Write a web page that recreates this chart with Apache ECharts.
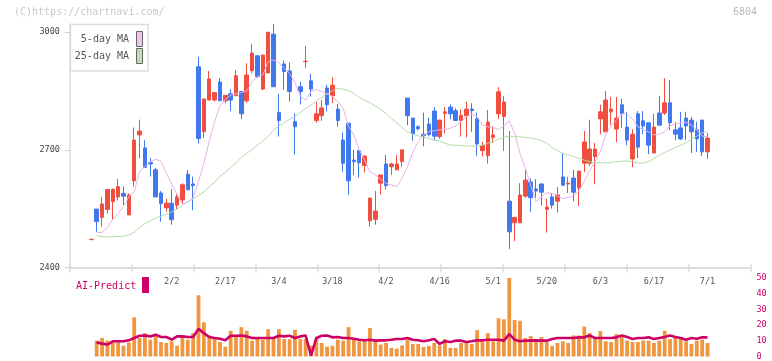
<!DOCTYPE html>
<html>
<head>
<meta charset="utf-8">
<script src="https://cdn.jsdelivr.net/npm/echarts@6/dist/echarts.min.js"></script>
<style>
  html, body { margin: 0; padding: 0; background: #fff; }
  #chart { width: 772px; height: 361px; }
</style>
</head>
<body>
<div id="chart"></div>
<script>
// daily candles, oldest first (index 0 is the stub before the window)
const open = [
  2471, 2549, 2528, 2548, 2568, 2580, 2589, 2534, 2621, 2738,
  2705, 2668, 2649, 2590, 2552, 2564, 2559, 2572, 2638, 2613,
  2912, 2746, 2827, 2827, 2873, 2825, 2843, 2838, 2849, 2825,
  2902, 2940, 2855, 2896, 2995, 2795, 2919, 2901, 2772, 2861,
  2925, 2876, 2775, 2787, 2858, 2838, 2804, 2725, 2768, 2674,
  2698, 2660, 2519, 2523, 2615, 2664, 2657, 2649, 2670, 2832,
  2781, 2759, 2740, 2766, 2799, 2734, 2793, 2809, 2800, 2775,
  2787, 2804, 2779, 2698, 2685, 2732, 2792, 2785, 2569, 2514,
  2514, 2582, 2618, 2600, 2613, 2548, 2580, 2569, 2631, 2613,
  2628, 2603, 2666, 2666, 2683, 2779, 2746, 2797, 2753, 2815,
  2758, 2677, 2792, 2774, 2769, 2692, 2794, 2794, 2820, 2751,
  2756, 2781, 2776, 2751, 2776, 2695
]
const close = [
  2472, 2517, 2562, 2599, 2599, 2606, 2582, 2585, 2725, 2748,
  2655, 2664, 2580, 2563, 2564, 2522, 2580, 2611, 2598, 2609,
  2729, 2830, 2881, 2846, 2825, 2839, 2827, 2889, 2792, 2891,
  2947, 2887, 2942, 3000, 2861, 2775, 2900, 2849, 2759, 2849,
  2926, 2855, 2792, 2807, 2815, 2865, 2775, 2666, 2621, 2670,
  2667, 2684, 2577, 2544, 2636, 2609, 2664, 2664, 2700, 2787,
  2741, 2754, 2736, 2739, 2735, 2776, 2797, 2792, 2775, 2788,
  2804, 2800, 2715, 2711, 2771, 2738, 2848, 2822, 2491, 2528,
  2585, 2623, 2578, 2595, 2592, 2554, 2559, 2585, 2610, 2615,
  2592, 2646, 2720, 2702, 2702, 2797, 2827, 2804, 2781, 2792,
  2725, 2740, 2707, 2761, 2712, 2758, 2763, 2820, 2769, 2740,
  2728, 2761, 2746, 2728, 2695, 2730
]
const low = [
  2471, 2491, 2504, 2538, 2523, 2571, 2559, 2534, 2606, 2678,
  2655, 2632, 2580, 2517, 2542, 2509, 2548, 2563, 2598, 2546,
  2716, 2730, 2827, 2823, 2825, 2819, 2799, 2838, 2779, 2820,
  2895, 2884, 2852, 2896, 2861, 2734, 2853, 2823, 2688, 2816,
  2908, 2836, 2769, 2774, 2798, 2819, 2759, 2644, 2585, 2636,
  2629, 2642, 2504, 2509, 2586, 2599, 2636, 2649, 2657, 2763,
  2723, 2750, 2709, 2734, 2723, 2728, 2742, 2778, 2775, 2734,
  2732, 2746, 2685, 2683, 2665, 2717, 2779, 2697, 2447, 2467,
  2514, 2578, 2542, 2578, 2558, 2489, 2550, 2540, 2608, 2590,
  2569, 2557, 2643, 2659, 2612, 2740, 2746, 2763, 2720, 2756,
  2712, 2656, 2679, 2740, 2689, 2692, 2763, 2789, 2751, 2725,
  2725, 2725, 2692, 2695, 2684, 2677
]
const high = [
  2472, 2549, 2579, 2599, 2602, 2626, 2607, 2589, 2757, 2777,
  2725, 2679, 2654, 2595, 2576, 2600, 2589, 2615, 2649, 2632,
  2937, 2830, 2901, 2846, 2883, 2839, 2855, 2904, 2849, 2921,
  2970, 2940, 2942, 3000, 3021, 2843, 2928, 2923, 2793, 2874,
  2965, 2894, 2823, 2827, 2866, 2885, 2817, 2744, 2768, 2700,
  2698, 2687, 2577, 2595, 2636, 2687, 2667, 2687, 2700, 2832,
  2781, 2763, 2795, 2782, 2809, 2776, 2809, 2816, 2806, 2803,
  2823, 2819, 2795, 2721, 2802, 2761, 2860, 2837, 2748, 2528,
  2615, 2649, 2627, 2625, 2615, 2575, 2590, 2605, 2692, 2631,
  2649, 2646, 2748, 2777, 2718, 2815, 2850, 2835, 2835, 2830,
  2797, 2753, 2799, 2799, 2769, 2792, 2837, 2883, 2878, 2771,
  2797, 2797, 2784, 2771, 2776, 2743
]
const ma5 = [
  '-', 2489, 2489, 2502, 2523, 2538, 2555, 2580, 2593, 2645,
  2657, 2670, 2676, 2671, 2640, 2613, 2586, 2561, 2567, 2578,
  2620, 2665, 2722, 2772, 2812, 2829, 2840, 2843, 2846, 2850,
  2874, 2887, 2891, 2925, 2929, 2923, 2908, 2895, 2872, 2837,
  2827, 2849, 2854, 2849, 2843, 2836, 2823, 2806, 2760, 2738,
  2700, 2674, 2644, 2636, 2625, 2615, 2610, 2606, 2627, 2657,
  2695, 2721, 2738, 2746, 2749, 2751, 2752, 2755, 2761, 2772,
  2785, 2791, 2785, 2763, 2759, 2757, 2752, 2761, 2774, 2742,
  2691, 2653, 2610, 2568, 2580, 2591, 2589, 2582, 2576, 2579,
  2582, 2596, 2619, 2647, 2670, 2695, 2738, 2761, 2776, 2792,
  2793, 2778, 2759, 2751, 2746, 2738, 2740, 2746, 2761, 2766,
  2768, 2771, 2763, 2751, 2735, 2734
]
const ma25 = [
  '-', 2481, 2479, 2478, 2478, 2479, 2480, 2483, 2490, 2502,
  2512, 2519, 2526, 2531, 2536, 2542, 2549, 2559, 2568, 2575,
  2583, 2593, 2606, 2617, 2632, 2643, 2655, 2667, 2681, 2691,
  2701, 2712, 2723, 2734, 2751, 2761, 2769, 2778, 2785, 2795,
  2806, 2814, 2825, 2834, 2843, 2851, 2857, 2855, 2851, 2844,
  2834, 2827, 2820, 2812, 2803, 2793, 2780, 2769, 2757, 2746,
  2740, 2736, 2732, 2729, 2725, 2723, 2717, 2712, 2712, 2711,
  2710, 2710, 2709, 2712, 2717, 2721, 2727, 2732, 2735, 2734,
  2733, 2732, 2730, 2728, 2723, 2717, 2706, 2698, 2691, 2687,
  2683, 2678, 2674, 2670, 2667, 2667, 2667, 2668, 2670, 2671,
  2672, 2670, 2667, 2666, 2670, 2678, 2687, 2693, 2700, 2706,
  2712, 2718, 2727, 2735, 2744, 2747
]
const volume = [
  '-', 10.1, 11.8, 10.1, 9.0, 9.0, 6.9, 9.0, 25.0, 11.8,
  14.9, 10.7, 13.4, 9.2, 8.6, 9.7, 6.9, 13.4, 10.7, 14.9,
  39.0, 21.8, 13.4, 12.4, 9.2, 6.3, 16.4, 12.4, 18.7, 16.4,
  10.1, 11.1, 10.7, 17.4, 11.1, 17.4, 11.1, 11.1, 17.0, 11.1,
  11.1, 6.9, 11.1, 8.6, 6.3, 6.9, 10.7, 10.1, 18.7, 11.1,
  9.7, 11.1, 18.1, 9.7, 7.6, 8.6, 5.5, 5.0, 7.1, 10.7,
  8.0, 8.0, 6.1, 6.7, 8.6, 7.1, 11.1, 5.5, 5.5, 8.6,
  9.7, 8.0, 16.8, 9.7, 14.9, 9.7, 24.4, 23.7, 50.2, 23.3,
  22.7, 11.8, 13.0, 10.1, 12.4, 9.7, 6.7, 8.6, 9.7, 8.6,
  13.4, 13.4, 19.1, 14.9, 12.4, 16.2, 9.7, 9.2, 14.3, 12.4,
  10.1, 9.2, 9.2, 10.1, 10.1, 8.6, 10.1, 16.4, 11.1, 13.0,
  12.4, 9.7, 8.0, 10.1, 10.7, 8.6
]
const aiPredict = [
  '-', 9.0, 8.2, 7.6, 9.7, 9.7, 9.7, 10.3, 11.8, 13.2,
  13.4, 12.8, 13.9, 12.4, 12.4, 10.7, 12.8, 12.8, 12.4, 12.4,
  17.6, 14.9, 12.4, 11.8, 11.3, 10.3, 13.2, 13.2, 13.4, 12.8,
  11.8, 11.8, 11.8, 11.8, 11.8, 13.2, 12.8, 13.2, 11.8, 12.8,
  13.4, 0.5, 11.8, 13.2, 13.4, 12.2, 12.4, 11.8, 11.8, 11.3,
  10.7, 10.3, 10.7, 10.1, 10.3, 10.3, 10.7, 11.1, 11.1, 11.8,
  10.7, 10.3, 9.7, 10.3, 11.1, 8.0, 9.7, 9.2, 10.1, 10.1,
  9.2, 9.7, 10.3, 10.3, 10.7, 10.7, 10.7, 10.1, 14.3, 10.7,
  9.7, 10.1, 10.1, 10.3, 10.1, 10.1, 11.1, 11.8, 11.8, 11.8,
  11.8, 12.2, 12.2, 13.4, 11.8, 11.8, 11.8, 11.8, 12.2, 13.4,
  12.4, 11.1, 11.8, 11.8, 12.2, 11.1, 11.8, 12.4, 13.4, 12.4,
  11.8, 10.7, 11.8, 11.3, 12.2, 12.2
]

// date labels sit on every 10th candle, first one on candle 15
const dateLabels = ['2/2', '2/17', '3/4', '3/18', '4/2', '4/16', '5/1', '5/20', '6/3', '6/17', '7/1']
const firstLabel = 15
const labelStep = 10
const priceTicks = [2400, 2700, 3000]

// empty slots either side of the candles
const padLeft = 4
const padRight = 8

const mono = 'DejaVu Sans Mono'
const red = '#f04f3f'
const blue = '#4078ef'
const magenta = '#cc0066'

const total = padLeft + open.length + padRight
const categories = []
for (let k = 0; k < total; k++) {
  const n = (k - padLeft - firstLabel) / labelStep
  categories.push(Number.isInteger(n) && n >= 0 && n < dateLabels.length ? dateLabels[n] : '')
}

const candleData = open.map((o, i) => [i + padLeft, o, close[i], low[i], high[i]])
const toPairs = (arr) => arr.map((v, i) => [i + padLeft, v])

const chart = echarts.init(document.getElementById('chart'))

const option = {
  animation: false,
  backgroundColor: '#fff',
  grid: [
    { left: 69.9, right: 21.6, top: 24, bottom: 93.5 },
    { left: 69.9, right: 21.6, top: 278, bottom: 3 }
  ],
  xAxis: [
    {
      type: 'category',
      gridIndex: 0,
      data: categories,
      boundaryGap: false,
      position: 'bottom',
      axisLine: { show: false },
      axisTick: { show: false },
      splitLine: { show: false },
      axisLabel: {
        interval: (idx, val) => val !== '',
        margin: 10,
        color: '#555',
        fontFamily: mono,
        fontSize: 8.5
      }
    },
    {
      // evenly spaced ticks along the bottom line
      type: 'value',
      gridIndex: 0,
      min: 0,
      max: 11,
      interval: 1,
      position: 'bottom',
      axisLine: { show: true, lineStyle: { color: '#dcdcdc', width: 2 } },
      axisTick: { show: true, length: 5, lineStyle: { color: '#dcdcdc', width: 1.5 } },
      axisLabel: { show: false },
      splitLine: { show: false }
    },
    {
      type: 'value',
      gridIndex: 0,
      min: 0,
      max: 11,
      interval: 1,
      position: 'bottom',
      axisLine: { show: false },
      axisTick: { show: true, inside: true, length: 3, lineStyle: { color: '#dcdcdc', width: 1.5 } },
      axisLabel: { show: false },
      splitLine: { show: false }
    },
    {
      type: 'category',
      gridIndex: 1,
      data: categories,
      boundaryGap: false,
      show: false
    }
  ],
  yAxis: [
    {
      type: 'value',
      gridIndex: 0,
      min: 2400,
      max: 3021,
      position: 'left',
      axisLine: { show: true, lineStyle: { color: '#dcdcdc', width: 1.5 } },
      axisTick: { show: true, length: 5, customValues: priceTicks, lineStyle: { color: '#ccc' } },
      axisLabel: {
        customValues: priceTicks,
        formatter: (v) => String(v),
        margin: 10,
        color: '#444',
        fontFamily: mono,
        fontSize: 8.5
      },
      splitLine: { show: false }
    },
    {
      type: 'value',
      gridIndex: 1,
      min: 0,
      max: 50,
      interval: 10,
      position: 'right',
      axisLine: { show: false },
      axisTick: { show: false },
      splitLine: { show: false },
      axisLabel: { margin: 6, color: magenta, fontFamily: mono, fontSize: 8.5 }
    }
  ],
  series: [
    {
      name: '25-day MA',
      type: 'line',
      xAxisIndex: 0,
      yAxisIndex: 0,
      data: toPairs(ma25),
      symbol: 'none',
      lineStyle: { color: '#b4dca6', width: 1 }
    },
    {
      name: '5-day MA',
      type: 'line',
      xAxisIndex: 0,
      yAxisIndex: 0,
      data: toPairs(ma5),
      symbol: 'none',
      lineStyle: { color: '#e8b2ea', width: 1 }
    },
    {
      name: 'price',
      type: 'candlestick',
      xAxisIndex: 0,
      yAxisIndex: 0,
      data: candleData,
      encode: { x: 0, y: [1, 2, 3, 4] },
      barWidth: 4,
      itemStyle: {
        color: red,
        color0: blue,
        borderColor: red,
        borderColor0: blue,
        borderWidth: 1
      }
    },
    {
      name: 'volume',
      type: 'bar',
      xAxisIndex: 3,
      yAxisIndex: 1,
      data: toPairs(volume),
      barWidth: 3.8,
      itemStyle: { color: '#f09640' }
    },
    {
      name: 'AI-Predict',
      type: 'line',
      xAxisIndex: 3,
      yAxisIndex: 1,
      data: toPairs(aiPredict),
      symbol: 'none',
      lineStyle: { color: magenta, width: 2.6 }
    }
  ],
  graphic: [
    {
      type: 'text', x: 14, y: 12,
      style: { text: '(C)https://chartnavi.com/', fill: '#c8c8c8', font: '10px "DejaVu Sans Mono"', verticalAlign: 'middle' }
    },
    {
      type: 'text', x: 757, y: 12,
      style: { text: '6804', fill: '#bbb', font: '10px "DejaVu Sans Mono"', align: 'right', verticalAlign: 'middle' }
    },
    {
      type: 'rect', z: 10,
      shape: { x: 70.5, y: 24.5, width: 77.5, height: 46.5 },
      style: { fill: '#fff', stroke: '#dcdcdc', lineWidth: 1.5 }
    },
    {
      type: 'text', z: 11, x: 129, y: 39.5,
      style: { text: '5-day MA', fill: '#555', font: '10px "DejaVu Sans Mono"', align: 'right', verticalAlign: 'middle' }
    },
    {
      type: 'rect', z: 11,
      shape: { x: 136.5, y: 31.5, width: 6, height: 15 },
      style: { fill: '#f0c2f0', stroke: '#666', lineWidth: 1 }
    },
    {
      type: 'text', z: 11, x: 129, y: 56.5,
      style: { text: '25-day MA', fill: '#555', font: '10px "DejaVu Sans Mono"', align: 'right', verticalAlign: 'middle' }
    },
    {
      type: 'rect', z: 11,
      shape: { x: 136.5, y: 48.5, width: 6, height: 15 },
      style: { fill: '#bddfb0', stroke: '#666', lineWidth: 1 }
    },
    {
      type: 'text', x: 76, y: 286,
      style: { text: 'AI-Predict', fill: magenta, font: '10px "DejaVu Sans Mono"', verticalAlign: 'middle' }
    },
    {
      type: 'rect',
      shape: { x: 142, y: 277, width: 7, height: 16 },
      style: { fill: magenta }
    }
  ]
}

chart.setOption(option)
</script>
</body>
</html>
